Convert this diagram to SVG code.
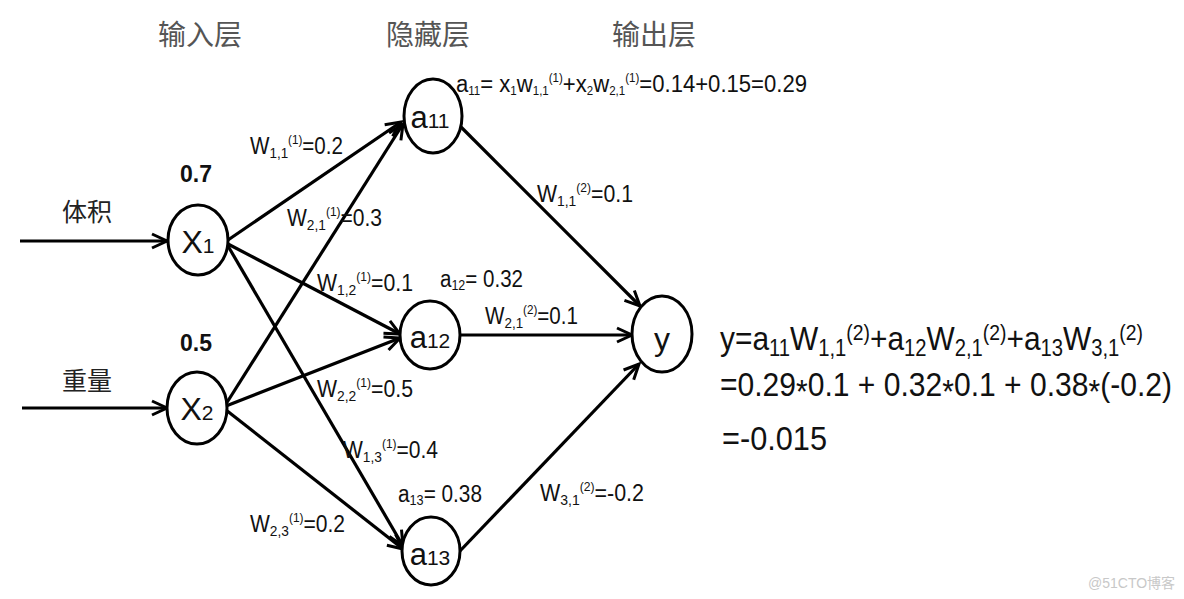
<svg xmlns="http://www.w3.org/2000/svg" width="1184" height="599" viewBox="0 0 1184 599">
<defs>
<style>
.node{fill:#fff;stroke:#000;stroke-width:3}
.edge{stroke:#000;stroke-width:3.2;fill:none;marker-end:url(#arr)}
.lbl{font-family:"Liberation Sans",Arial,sans-serif;font-size:23px;fill:#111}
.nl{font-family:"Liberation Sans",Arial,sans-serif;fill:#111}
.cjk{font-family:"Noto Sans CJK SC","Noto Sans",sans-serif}
.eq{font-family:"Liberation Sans",Arial,sans-serif;font-size:34px;fill:#111}
</style>
<marker id="arr" markerUnits="userSpaceOnUse" markerWidth="20" markerHeight="18" refX="17" refY="9" orient="auto">
<path d="M2,2 L17,9 L2,16" fill="none" stroke="#000" stroke-width="3" stroke-linejoin="miter"/>
</marker>
</defs>
<rect width="1184" height="599" fill="#fff"/>

<!-- layer titles -->
<g id="titles" class="cjk" font-size="28" fill="#555">
<text x="200" y="45" text-anchor="middle">输入层</text>
<text x="428" y="45" text-anchor="middle">隐藏层</text>
<text x="654" y="45" text-anchor="middle">输出层</text>
</g>

<!-- connectors -->
<g id="connectors">
<line class="edge" x1="20" y1="241" x2="167" y2="241"/>
<line class="edge" x1="22" y1="408" x2="167" y2="408"/>
<line class="edge" x1="228" y1="240" x2="401" y2="122"/>
<line class="edge" x1="228" y1="244" x2="400" y2="334"/>
<line class="edge" x1="228" y1="246" x2="403" y2="546"/>
<line class="edge" x1="226" y1="404" x2="403" y2="124"/>
<line class="edge" x1="226" y1="406" x2="400" y2="338"/>
<line class="edge" x1="226" y1="410" x2="403" y2="549"/>
<line class="edge" x1="458" y1="124" x2="640" y2="306"/>
<line class="edge" x1="460" y1="335" x2="632" y2="335"/>
<line class="edge" x1="459" y1="552" x2="639" y2="364"/>
</g>

<!-- input nodes -->
<g id="x1">
<ellipse class="node" cx="198" cy="240" rx="30" ry="35"/>
<text class="nl" x="198" y="253" text-anchor="middle" font-size="32">X<tspan font-size="21">1</tspan></text>
<text class="nl" x="196" y="182" text-anchor="middle" font-size="23" font-weight="bold">0.7</text>
<text class="cjk" x="87" y="221" text-anchor="middle" font-size="25" fill="#222">体积</text>
</g>
<g id="x2">
<ellipse class="node" cx="197" cy="408" rx="30" ry="36"/>
<text class="nl" x="197" y="420" text-anchor="middle" font-size="32">X<tspan font-size="21">2</tspan></text>
<text class="nl" x="196" y="351" text-anchor="middle" font-size="23" font-weight="bold">0.5</text>
<text class="cjk" x="87" y="390" text-anchor="middle" font-size="25" fill="#222">重量</text>
</g>

<!-- hidden nodes -->
<g id="a11">
<ellipse class="node" cx="433" cy="116" rx="29" ry="37"/>
<text class="nl" x="430" y="128" text-anchor="middle" font-size="31">a<tspan font-size="21">11</tspan></text>
</g>
<g id="a12">
<ellipse class="node" cx="430" cy="335" rx="30" ry="34"/>
<text class="nl" x="430" y="348" text-anchor="middle" font-size="31">a<tspan font-size="21">12</tspan></text>
</g>
<g id="a13">
<ellipse class="node" cx="431" cy="551" rx="29" ry="34"/>
<text class="nl" x="430" y="565" text-anchor="middle" font-size="31">a<tspan font-size="21">13</tspan></text>
</g>

<!-- output node -->
<g id="y">
<ellipse class="node" cx="662" cy="334" rx="30" ry="38"/>
<text class="nl" x="662" y="350" text-anchor="middle" font-size="32">y</text>
</g>

<!-- weight labels -->
<g id="labels">
<text class="lbl" x="250" y="154" textLength="93" lengthAdjust="spacingAndGlyphs">W<tspan font-size="15" dy="4">1,1</tspan><tspan font-size="13" dy="-14">(1)</tspan><tspan dy="10">=0.2</tspan></text>
<text class="lbl" x="287" y="226" textLength="95" lengthAdjust="spacingAndGlyphs">W<tspan font-size="15" dy="4">2,1</tspan><tspan font-size="13" dy="-14">(1)</tspan><tspan dy="10">=0.3</tspan></text>
<text class="lbl" x="317" y="291" textLength="96" lengthAdjust="spacingAndGlyphs">W<tspan font-size="15" dy="4">1,2</tspan><tspan font-size="13" dy="-14">(1)</tspan><tspan dy="10">=0.1</tspan></text>
<text class="lbl" x="317" y="397" textLength="96" lengthAdjust="spacingAndGlyphs">W<tspan font-size="15" dy="4">2,2</tspan><tspan font-size="13" dy="-14">(1)</tspan><tspan dy="10">=0.5</tspan></text>
<text class="lbl" x="343" y="458" textLength="95" lengthAdjust="spacingAndGlyphs">W<tspan font-size="15" dy="4">1,3</tspan><tspan font-size="13" dy="-14">(1)</tspan><tspan dy="10">=0.4</tspan></text>
<text class="lbl" x="250" y="532" textLength="95" lengthAdjust="spacingAndGlyphs">W<tspan font-size="15" dy="4">2,3</tspan><tspan font-size="13" dy="-14">(1)</tspan><tspan dy="10">=0.2</tspan></text>
<text class="lbl" x="537" y="202" textLength="96" lengthAdjust="spacingAndGlyphs">W<tspan font-size="15" dy="4">1,1</tspan><tspan font-size="13" dy="-14">(2)</tspan><tspan dy="10">=0.1</tspan></text>
<text class="lbl" x="485" y="324" textLength="93" lengthAdjust="spacingAndGlyphs">W<tspan font-size="15" dy="4">2,1</tspan><tspan font-size="13" dy="-14">(2)</tspan><tspan dy="10">=0.1</tspan></text>
<text class="lbl" x="540" y="501" textLength="104" lengthAdjust="spacingAndGlyphs">W<tspan font-size="15" dy="4">3,1</tspan><tspan font-size="13" dy="-14">(2)</tspan><tspan dy="10">=-0.2</tspan></text>
<text class="lbl" x="440" y="287" textLength="83" lengthAdjust="spacingAndGlyphs">a<tspan font-size="14" dy="3">12</tspan><tspan dy="-3">= 0.32</tspan></text>
<text class="lbl" x="398" y="502" textLength="84" lengthAdjust="spacingAndGlyphs">a<tspan font-size="14" dy="3">13</tspan><tspan dy="-3">= 0.38</tspan></text>
<text class="lbl" x="456" y="92" font-size="20" textLength="351" lengthAdjust="spacingAndGlyphs">a<tspan font-size="12" dy="3">11</tspan><tspan dy="-3">= x</tspan><tspan font-size="12" dy="3">1</tspan><tspan dy="-3">w</tspan><tspan font-size="12" dy="3">1,1</tspan><tspan font-size="12" dy="-13">(1)</tspan><tspan dy="10">+x</tspan><tspan font-size="12" dy="3">2</tspan><tspan dy="-3">w</tspan><tspan font-size="12" dy="3">2,1</tspan><tspan font-size="12" dy="-13">(1)</tspan><tspan dy="10">=0.14+0.15=0.29</tspan></text>
</g>

<!-- formula -->
<g id="formula">
<text class="eq" x="720" y="350" textLength="423" lengthAdjust="spacingAndGlyphs">y=a<tspan font-size="23" dy="6">11</tspan><tspan dy="-6">W</tspan><tspan font-size="23" dy="6">1,1</tspan><tspan font-size="22" dy="-16">(2)</tspan><tspan dy="10">+a</tspan><tspan font-size="23" dy="6">12</tspan><tspan dy="-6">W</tspan><tspan font-size="23" dy="6">2,1</tspan><tspan font-size="22" dy="-16">(2)</tspan><tspan dy="10">+a</tspan><tspan font-size="23" dy="6">13</tspan><tspan dy="-6">W</tspan><tspan font-size="23" dy="6">3,1</tspan><tspan font-size="22" dy="-16">(2)</tspan></text>
<text class="eq" x="720" y="396" textLength="452" lengthAdjust="spacingAndGlyphs">=0.29<tspan dy="7">*</tspan><tspan dy="-7">0.1 + 0.32</tspan><tspan dy="7">*</tspan><tspan dy="-7">0.1 + 0.38</tspan><tspan dy="7">*</tspan><tspan dy="-7">(-0.2)</tspan></text>
<text class="eq" x="722" y="450" textLength="105" lengthAdjust="spacingAndGlyphs">=-0.015</text>
</g>

<text x="1088" y="588" font-family="'Liberation Sans','Noto Sans CJK SC',sans-serif" font-size="14" fill="#c8c8c8">@51CTO博客</text>
</svg>
